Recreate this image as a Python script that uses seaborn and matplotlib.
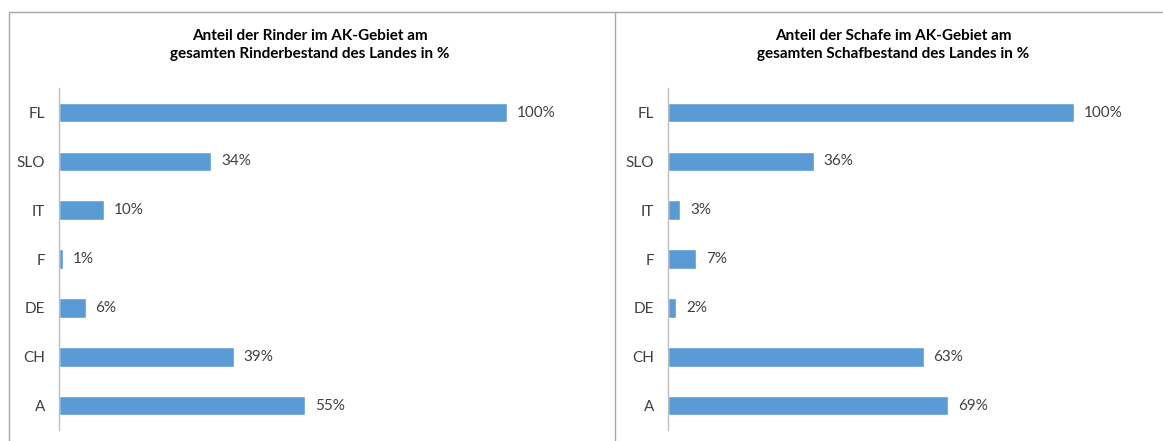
import matplotlib
matplotlib.use("Agg")
import matplotlib.pyplot as plt
from matplotlib.lines import Line2D
import pandas as pd
import seaborn as sns

# Laender (von oben nach unten)
laender = ["FL", "SLO", "IT", "F", "DE", "CH", "A"]

# Anteil im AK-Gebiet am gesamten Bestand des Landes in %
rinder = [100, 34, 10, 1, 6, 39, 55]
schafe = [100, 36, 3, 7, 2, 63, 69]

titel_rinder = "Anteil der Rinder im AK-Gebiet am\ngesamten Rinderbestand des Landes in %"
titel_schafe = "Anteil der Schafe im AK-Gebiet am\ngesamten Schafbestand des Landes in %"

BLAU = "#5B9BD5"
GRAU = "#A6A6A6"
TEXT = "#404040"


def balken(ax, werte, titel, titel_x):
    df = pd.DataFrame({"land": laender, "wert": werte})
    sns.barplot(data=df, x="wert", y="land", orient="h", color=BLAU,
                width=0.4, saturation=1, ax=ax)
    ax.set_xlim(0, 120)
    ax.set_ylim(6.5, -0.5)
    ax.set_xlabel("")
    ax.set_ylabel("")
    ax.set_xticks([])
    for s in ["top", "right", "bottom"]:
        ax.spines[s].set_visible(False)
    ax.spines["left"].set_color("#BFBFBF")
    ax.spines["left"].set_linewidth(1.0)
    ax.tick_params(axis="y", length=0, pad=10, labelsize=11, labelcolor=TEXT)
    for container in ax.containers:
        ax.bar_label(container, fmt="%.0f%%", padding=7, fontsize=11,
                     color=TEXT)
    ax.figure.text(titel_x, 1 - 45 / 441, titel, ha="center", va="center",
                   fontsize=11, fontweight="bold", color="black",
                   linespacing=1.35)


sns.set_theme(style="white")
plt.rcParams["font.family"] = ["Lato", "DejaVu Sans"]

fig = plt.figure(figsize=(11.63, 4.41), dpi=100)

ax1 = fig.add_axes([59 / 1163, 0.025, 537.6 / 1163, 0.775])
ax2 = fig.add_axes([668 / 1163, 0.025, 487 / 1163, 0.775])

balken(ax1, rinder, titel_rinder, 310 / 1163)
balken(ax2, schafe, titel_schafe, 893 / 1163)

# Rahmen der beiden Diagrammbereiche
y_oben = 1 - 12 / 441
fig.add_artist(Line2D([9 / 1163, 1], [y_oben, y_oben], color=GRAU, lw=1,
                      transform=fig.transFigure))
fig.add_artist(Line2D([9 / 1163, 9 / 1163], [0, y_oben], color=GRAU, lw=1,
                      transform=fig.transFigure))
fig.add_artist(Line2D([615 / 1163, 615 / 1163], [0, y_oben], color=GRAU, lw=1,
                      transform=fig.transFigure))

fig.savefig("out.png", dpi=100, facecolor="white")
plt.close(fig)
